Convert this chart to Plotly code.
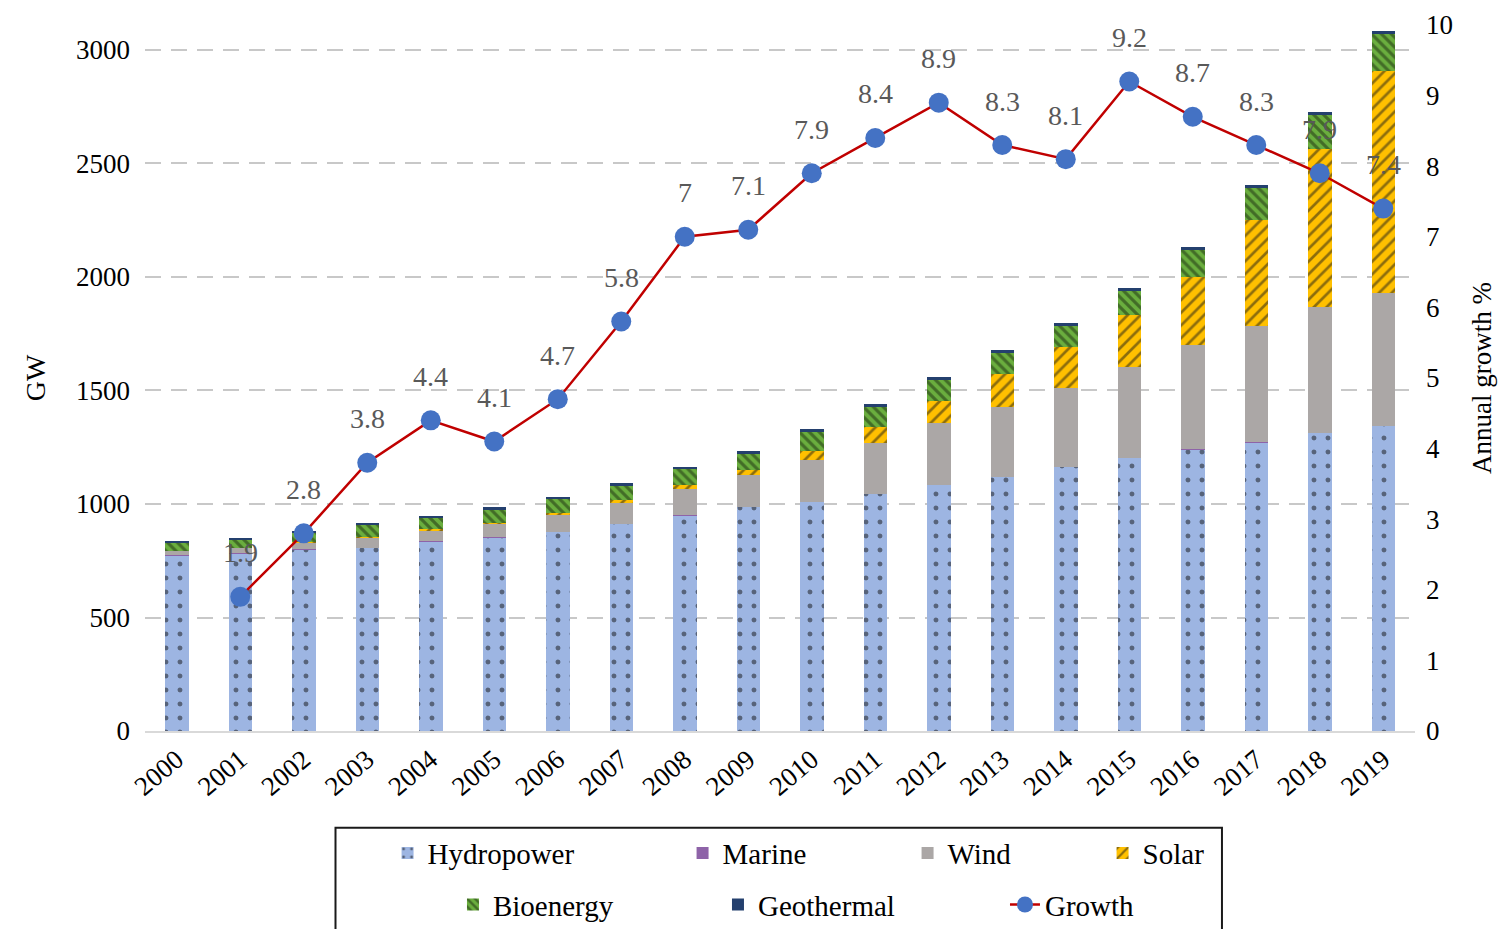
import plotly.graph_objects as go

years = [str(y) for y in range(2000, 2020)]
hydro = [775, 784, 800, 808, 836, 853, 877, 912, 951, 987, 1010, 1044, 1084, 1120, 1163, 1203, 1240, 1273, 1313, 1345]
marine = [0.3, 0.3, 0.3, 0.3, 0.3, 0.3, 0.3, 0.3, 0.3, 0.3, 0.3, 0.5, 0.5, 0.5, 0.5, 0.5, 0.5, 0.5, 0.5, 0.5]
wind = [18, 22, 29, 44, 46, 59, 73, 92, 115, 141, 185, 222, 271, 305, 348, 401, 462, 511, 555, 585]
solar = [1, 1, 2, 3, 6, 6, 9, 12, 16, 22, 38, 73, 97, 146, 181, 229, 298, 467, 696, 978]
bio = [35, 36, 40, 50, 50, 57, 61, 65, 70, 72, 85, 88, 95, 95, 93, 106, 118, 140, 149, 163]
geo = [9, 9, 9, 10, 10, 10, 10, 10, 11, 11, 12, 11, 11, 12, 12, 13, 13, 14, 14, 14]
growth = [None, 1.9, 2.8, 3.8, 4.4, 4.1, 4.7, 5.8, 7.0, 7.1, 7.9, 8.4, 8.9, 8.3, 8.1, 9.2, 8.7, 8.3, 7.9, 7.4]
growth_labels = ["", "1.9", "2.8", "3.8", "4.4", "4.1", "4.7", "5.8", "7", "7.1", "7.9", "8.4",
                 "8.9", "8.3", "8.1", "9.2", "8.7", "8.3", "7.9", "7.4"]
left_ticks = [0, 500, 1000, 1500, 2000, 2500, 3000]
right_ticks = [0, 1, 2, 3, 4, 5, 6, 7, 8, 9, 10]

FONT = "Liberation Serif"

fig = go.Figure()

def add_bar(name, vals, color, legend, lw, pattern=None):
    marker = dict(color=color, line=dict(width=0))
    if pattern:
        marker["pattern"] = pattern
    fig.add_trace(go.Bar(x=years, y=vals, name=name, marker=marker,
                         legend=legend, legendwidth=lw))

add_bar("Hydropower", hydro, "#9DB5E2", "legend", 250,
        dict(shape=".", fgcolor="#111111", bgcolor="#9DB5E2", size=14, solidity=0.1, fillmode="overlay"))
add_bar("Marine", marine, "#8E63A8", "legend", 180)
add_bar("Wind", wind, "#ABA7A6", "legend", 150)
add_bar("Solar", solar, "#FFC000", "legend", 70,
        dict(shape="/", fgcolor="#1A1A1A", bgcolor="#FFC000", size=9, solidity=0.3, fillmode="overlay"))
add_bar("Bioenergy", bio, "#6AAE3E", "legend2", 220,
        dict(shape="\\", fgcolor="#1A2A10", bgcolor="#6AAE3E", size=7, solidity=0.45, fillmode="overlay"))
add_bar("Geothermal", geo, "#24406E", "legend2", 242)

fig.add_trace(go.Scatter(x=years, y=growth, name="Growth", yaxis="y2", mode="lines+markers",
                         line=dict(color="#C00000", width=2.5),
                         marker=dict(color="#4472C4", size=20),
                         legend="legend2", legendwidth=110))

for i, (g, lab) in enumerate(zip(growth, growth_labels)):
    if g is None:
        continue
    fig.add_annotation(x=i, y=g, xref="x", yref="y2", text=lab, showarrow=False, yshift=44,
                       font=dict(family=FONT, size=28, color="#595959"))

fig.add_shape(type="rect", xref="paper", yref="paper", x0=0.150, x1=0.848, y0=-0.31, y1=-0.137,
              line=dict(color="#1A1A1A", width=2), fillcolor="rgba(0,0,0,0)", layer="above")

fig.update_layout(
    width=1501, height=929,
    paper_bgcolor="white", plot_bgcolor="white",
    font=dict(family=FONT, size=27, color="#000000"),
    barmode="stack", bargap=0.63,
    margin=dict(l=145, r=86, t=25, b=198, autoexpand=False),
    xaxis=dict(type="category", tickangle=-40, tickfont=dict(size=27), showline=True,
               linecolor="#D9D9D9", linewidth=2, ticks="", automargin=False,
               range=[-0.5, 19.5]),
    yaxis=dict(range=[0, 3110], tickvals=left_ticks, showgrid=True, gridcolor="#C8C8C8",
               gridwidth=2, griddash="16px,10px", zeroline=False, ticks="",
               ticklabelstandoff=14, automargin=False,
               title=dict(text="GW", font=dict(size=28), standoff=22)),
    yaxis2=dict(range=[0, 10], tickvals=right_ticks, overlaying="y", side="right",
                showgrid=False, zeroline=False, ticks="", ticklabelstandoff=10,
                automargin=False,
                title=dict(text="Annual growth %", font=dict(size=27), standoff=20)),
    legend=dict(orientation="h", x=0.191, xanchor="left", y=-0.173, yanchor="middle",
                font=dict(size=29), bgcolor="rgba(0,0,0,0)", traceorder="normal"),
    legend2=dict(orientation="h", x=0.2425, xanchor="left", y=-0.246, yanchor="middle",
                 font=dict(size=29), bgcolor="rgba(0,0,0,0)", traceorder="normal"),
    showlegend=True,
)

fig.write_html("out.html", config={"displayModeBar": False},
               post_script="document.body.style.margin='0px';")
